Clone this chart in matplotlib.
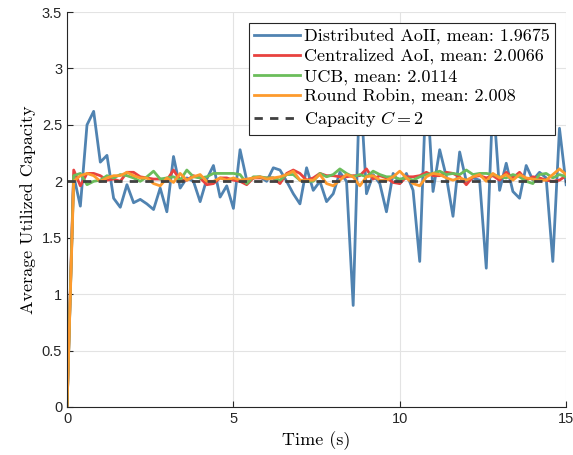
import numpy as np
import matplotlib
matplotlib.use("Agg")
import matplotlib.pyplot as plt
from matplotlib.ticker import FormatStrFormatter

#%% data (sampled every 0.2 s)
t = np.round(np.arange(76) * 0.2, 1)

aoii = [0, 2.05, 1.78, 2.50, 2.62, 2.17, 2.23, 1.85, 1.77, 1.97,
        1.81, 1.84, 1.80, 1.75, 1.94, 1.73, 2.22, 1.94, 2.03, 2.00,
        1.82, 2.02, 2.14, 1.86, 1.96, 1.76, 2.28, 2.01, 2.03, 2.04,
        2.00, 2.12, 2.10, 2.00, 1.89, 1.80, 2.12, 1.92, 2.00, 1.82,
        1.89, 2.08, 2.00, 0.90, 2.90, 1.89, 2.06, 1.98, 1.73, 2.07,
        1.98, 2.07, 1.92, 1.29, 2.90, 1.91, 2.28, 2.04, 1.69, 2.26,
        2.00, 2.03, 2.01, 1.23, 2.75, 1.92, 2.16, 1.91, 1.85, 2.14,
        2.01, 2.08, 2.03, 1.29, 2.47, 1.97]

aoi = [0, 2.10, 1.96, 2.07, 2.07, 2.05, 2.01, 2.02, 2.00, 2.08,
       2.08, 2.04, 2.03, 2.02, 2.02, 2.01, 2.10, 2.01, 2.01, 2.05,
       2.03, 1.97, 1.98, 2.03, 2.03, 2.01, 2.00, 1.97, 2.03, 2.03,
       2.03, 2.03, 1.98, 2.07, 2.10, 2.07, 2.01, 2.03, 2.07, 2.05,
       2.05, 2.04, 2.04, 2.05, 2.05, 2.11, 2.02, 2.05, 2.03, 1.99,
       1.98, 2.04, 2.04, 2.05, 2.08, 2.05, 2.05, 2.08, 2.07, 2.04,
       1.97, 2.04, 2.05, 2.03, 2.05, 2.01, 2.08, 2.03, 2.08, 2.01,
       2.04, 2.03, 2.01, 2.00, 2.01, 2.05]

ucb = [0, 2.05, 2.07, 1.97, 2.00, 2.01, 2.05, 2.03, 2.06, 2.05,
       2.03, 2.00, 2.04, 2.09, 2.02, 2.03, 2.04, 2.01, 2.10, 2.04,
       2.03, 2.04, 2.07, 2.07, 2.07, 2.07, 2.06, 1.98, 2.04, 2.04,
       2.03, 2.03, 2.01, 2.06, 2.06, 2.01, 2.00, 2.00, 2.07, 2.04,
       2.06, 2.11, 2.07, 2.04, 2.06, 2.04, 2.09, 2.06, 2.04, 2.04,
       2.02, 2.03, 2.01, 2.04, 2.06, 2.07, 2.09, 2.06, 2.07, 2.06,
       2.10, 2.06, 2.07, 2.07, 2.06, 2.04, 2.03, 2.06, 2.04, 2.00,
       1.98, 2.06, 2.07, 2.03, 2.06, 2.04]

rr = [0, 2.00, 2.05, 2.07, 2.05, 2.00, 2.03, 2.05, 2.05, 2.08,
      2.05, 2.03, 2.03, 1.98, 1.96, 2.03, 1.99, 2.07, 2.01, 2.04,
      2.06, 2.00, 2.00, 2.03, 2.01, 2.03, 2.01, 2.02, 2.03, 2.04,
      2.02, 2.03, 2.04, 2.06, 2.09, 2.01, 2.01, 2.01, 2.06, 1.98,
      1.96, 2.01, 2.06, 2.04, 1.96, 2.04, 2.05, 2.01, 2.01, 2.04,
      2.09, 2.03, 1.98, 1.96, 2.04, 2.07, 2.06, 2.03, 2.01, 2.03,
      2.01, 2.04, 2.06, 2.00, 2.07, 2.03, 2.06, 2.01, 2.06, 2.03,
      2.02, 2.01, 2.01, 2.06, 2.11, 2.06]

capacity = 2
labels = ["Distributed AoII, mean: 1.9675",
          "Centralized AoI, mean: 2.0066",
          "UCB, mean: 2.0114",
          "Round Robin, mean: 2.008",
          "Capacity $C=2$"]
colors = ["#5083b1", "#e8423f", "#6bbd5b", "#fd9a2d"]

#%% plot
plt.rcParams['mathtext.fontset'] = 'cm'
serif = {'family': 'cmr10', 'size': 13}

fig = plt.figure(figsize=(5.73, 4.55), dpi=100)
ax = fig.add_axes([0.117, 0.1055, 0.871, 0.868])

for y, c, lab in zip([aoii, aoi, ucb, rr], colors, labels[:4]):
    ax.plot(t, y, color=c, lw=2, label=lab)
ax.plot([t[0], t[-1]], [capacity, capacity], '--', color='#404040', lw=2,
        dashes=(3, 2.6), label=labels[4])

ax.set_xlim(0, 15)
ax.set_ylim(0, 3.5)
ax.set_xticks([0, 5, 10, 15])
ax.set_yticks(np.arange(0, 3.51, 0.5))
ax.yaxis.set_major_formatter(FormatStrFormatter('%g'))
ax.grid(True, color='#e3e3e3', lw=0.8)
ax.set_axisbelow(True)
for s in ['top', 'right']:
    ax.spines[s].set_visible(False)
for s in ['left', 'bottom']:
    ax.spines[s].set_color('#262626')
ax.tick_params(direction='in', length=4, labelsize=10.5, colors='#262626')
for lab in ax.get_xticklabels() + ax.get_yticklabels():
    lab.set_family('Liberation Sans')

ax.set_xlabel("Time (s)", fontdict=serif)
ax.set_ylabel("Average Utilized Capacity", fontdict=serif)

leg = ax.legend(loc='upper right', prop={'family': 'cmr10', 'size': 13},
                fancybox=False, framealpha=1, edgecolor='#262626',
                handlelength=2.5, borderaxespad=0.6, labelspacing=0.22,
                borderpad=0.3, handletextpad=0.25)
leg.get_frame().set_linewidth(0.8)

plt.savefig("out.png", dpi=100)
